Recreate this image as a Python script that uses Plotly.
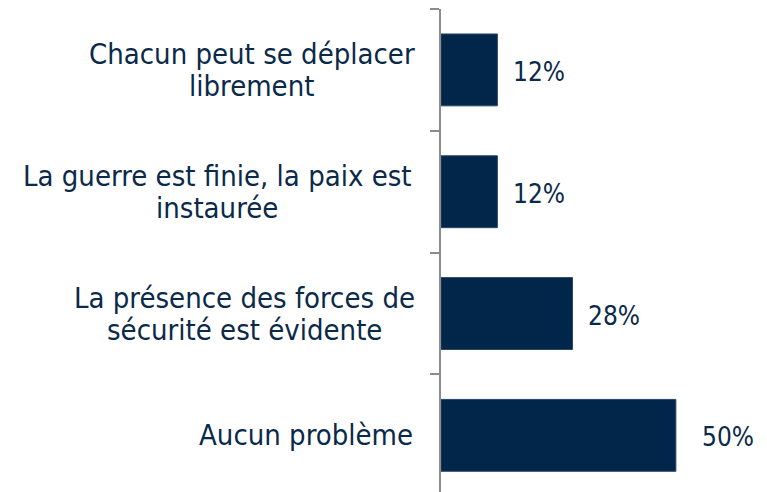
import plotly.graph_objects as go

categories = ["Aucun problème",
              "La présence des forces de<br>sécurité est évidente",
              "La guerre est finie, la paix est<br>instaurée",
              "Chacun peut se déplacer<br>librement"]
values = [50, 28, 12, 12]
value_labels = ["50%", "28%", "12%", "12%"]

BAR = "#02254a"
TXT = "#0b2a4a"
FONT = "DejaVu Sans Condensed"

fig = go.Figure(go.Bar(
    x=values, y=list(range(len(categories))), orientation="h",
    marker=dict(color=BAR, line=dict(color="#2a4766", width=1)),
    width=0.59, hoverinfo="skip",
))

label_shift = [24, 13, 14, 14]
for i, (v, lab) in enumerate(zip(values, value_labels)):
    fig.add_annotation(x=v, y=i, xref="x", yref="y", text=lab, showarrow=False,
                       xanchor="left", yanchor="middle", xshift=label_shift[i], yshift=-2,
                       font=dict(family=FONT, size=26, color=TXT))

# label block centres (px from the figure's left edge)
PLOT_LEFT = 441
block_centres = [None, 244, 217, 251.5]
for i, c in enumerate(categories):
    lines = c.split("<br>")
    if len(lines) == 1:
        fig.add_annotation(x=0, y=i, xref="paper", yref="y", text=lines[0], showarrow=False,
                           xanchor="right", yanchor="middle", xshift=-(PLOT_LEFT - 415),
                           font=dict(family=FONT, size=29, color=TXT))
    else:
        for k, ln in enumerate(lines):
            fig.add_annotation(x=0, y=i, xref="paper", yref="y", text=ln, showarrow=False,
                               xanchor="center", yanchor="middle",
                               xshift=-(PLOT_LEFT - block_centres[i]),
                               yshift=16 if k == 0 else -16,
                               font=dict(family=FONT, size=29, color=TXT))

fig.update_layout(
    width=767, height=492,
    margin=dict(l=PLOT_LEFT, r=0, t=9, b=0),
    paper_bgcolor="white", plot_bgcolor="white",
    showlegend=False,
    xaxis=dict(range=[0, 69.4], visible=False, fixedrange=True),
    yaxis=dict(range=[-0.465, 3.5], tickmode="array",
               tickvals=[-0.5, 0.5, 1.5, 2.5, 3.5], ticktext=[""] * 5,
               ticks="outside", ticklen=9, tickwidth=1.5, tickcolor="#8c8c8c",
               showline=True, linecolor="#8c8c8c", linewidth=1.5,
               showgrid=False, zeroline=False, fixedrange=True),
)

fig.write_html("out.html", config={"displayModeBar": False},
               post_script="document.body.style.margin='0';")
